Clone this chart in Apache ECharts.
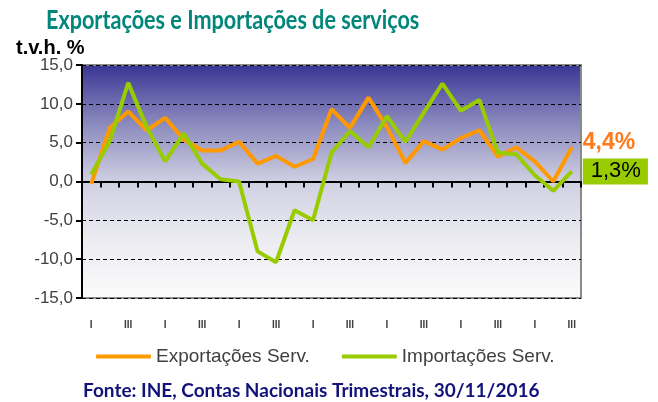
<!DOCTYPE html>
<html lang="pt">
<head>
    <meta charset="UTF-8">
    <title>Exportações e Importações de serviços</title>
    <style>
        body { margin: 0; background: #fff; }
        #chart { width: 658px; height: 402px; }
    </style>
    <script src="https://cdn.jsdelivr.net/npm/echarts@6/dist/echarts.min.js"></script>
</head>
<body>
    <div id="chart"></div>
    <script>
        // trimestres 2010 T1 .. 2016 T3
        const quarters = [
            'I', 'II', 'III', 'IV', 'I', 'II', 'III', 'IV', 'I', 'II', 'III', 'IV', 'I', 'II',
            'III', 'IV', 'I', 'II', 'III', 'IV', 'I', 'II', 'III', 'IV', 'I', 'II', 'III'
        ];
        const exportacoes = [
            -0.3, 6.9, 9.0, 6.6, 8.2, 5.4, 4.0, 4.0, 5.1, 2.3, 3.3, 1.9, 2.9, 9.3,
            6.9, 10.8, 7.0, 2.4, 5.2, 4.1, 5.6, 6.6, 3.2, 4.4, 2.6, 0.0, 4.4
        ];
        const importacoes = [
            0.9, 5.2, 12.7, 7.0, 2.6, 6.2, 2.3, 0.3, 0.0, -9.0, -10.4, -3.7, -5.0, 3.7,
            6.5, 4.4, 8.4, 5.1, 8.9, 12.6, 9.1, 10.5, 3.7, 3.5, 0.8, -1.2, 1.3
        ];
        const yTicks = { min: -15, max: 15, interval: 5 };

        const fmt = v => v.toFixed(1).replace('.', ',');

        const chart = echarts.init(document.getElementById('chart'));

        chart.setOption({
            animation: false,
            graphic: [
                {
                    // titulo (Calibri no original, por isso estreitado)
                    type: 'text', left: 46, top: 7, scaleX: 0.8,
                    style: {
                        text: 'Exportações e Importações de serviços',
                        fill: '#00867a', font: 'bold 27px Lato'
                    }
                },
                {
                    type: 'text', left: 16, top: 38,
                    style: { text: 't.v.h. %', fill: '#000', font: 'bold 20px "Liberation Sans"' }
                },
                {
                    type: 'text', left: 83, top: 381,
                    style: {
                        text: 'Fonte: INE, Contas Nacionais Trimestrais, 30/11/2016',
                        fill: '#12127a', font: 'bold 19px Lato'
                    }
                }
            ],
            legend: {
                left: 91,
                top: 342,
                icon: 'roundRect',
                itemWidth: 55,
                itemHeight: 4,
                itemGap: 32,
                textStyle: { color: '#404040', fontFamily: 'Liberation Sans', fontSize: 19, padding: [0, 0, 0, 0] },
                data: ['Exportações Serv.', 'Importações Serv.']
            },
            grid: {
                left: 82, right: 77, top: 65, bottom: 104,
                show: true,
                borderColor: '#8a8a8a',
                borderWidth: 2,
                backgroundColor: {
                    type: 'linear', x: 0, y: 0, x2: 0, y2: 1,
                    colorStops: [
                        { offset: 0, color: '#383494' },
                        { offset: 0.25, color: '#8a89bd' },
                        { offset: 0.5, color: '#cfcfe2' },
                        { offset: 0.75, color: '#ececf2' },
                        { offset: 1, color: '#fbfbfb' }
                    ]
                }
            },
            xAxis: {
                type: 'category',
                data: quarters,
                boundaryGap: true,
                axisLine: { lineStyle: { color: '#000', width: 2 } },
                axisTick: { show: true, interval: 0, length: 6, lineStyle: { color: '#000', width: 2 } },
                axisLabel: {
                    interval: 1, margin: 22, color: '#404040',
                    fontFamily: 'Liberation Sans', fontSize: 10, fontWeight: 'bold'
                },
                splitLine: { show: false }
            },
            yAxis: {
                type: 'value',
                min: yTicks.min, max: yTicks.max, interval: yTicks.interval,
                axisLine: { show: true, lineStyle: { color: '#000', width: 2 } },
                axisTick: { show: true, length: 6, lineStyle: { color: '#000', width: 2 } },
                axisLabel: {
                    formatter: fmt, margin: 9, color: '#404040',
                    fontFamily: 'Liberation Sans', fontSize: 17
                },
                splitLine: { lineStyle: { color: '#000', type: [4, 3], width: 1.2 } }
            },
            series: [
                {
                    name: 'Exportações Serv.',
                    type: 'line',
                    data: exportacoes,
                    symbol: 'none',
                    color: '#ff9900',
                    lineStyle: { width: 4, color: '#ff9900' },
                    endLabel: {
                        show: true,
                        formatter: p => fmt(p.value) + '%',
                        offset: [3, -5],
                        color: '#ff7a1a',
                        fontFamily: 'Liberation Sans',
                        fontWeight: 'bold',
                        fontSize: 23
                    }
                },
                {
                    name: 'Importações Serv.',
                    type: 'line',
                    data: importacoes,
                    symbol: 'none',
                    color: '#99cc00',
                    lineStyle: { width: 4, color: '#99cc00' },
                    endLabel: {
                        show: true,
                        formatter: p => fmt(p.value) + '%',
                        offset: [3, 0],
                        color: '#000',
                        backgroundColor: '#99cc00',
                        padding: [2, 7, 2, 8],
                        fontFamily: 'Liberation Sans',
                        fontSize: 22
                    }
                }
            ]
        });
    </script>
</body>
</html>
